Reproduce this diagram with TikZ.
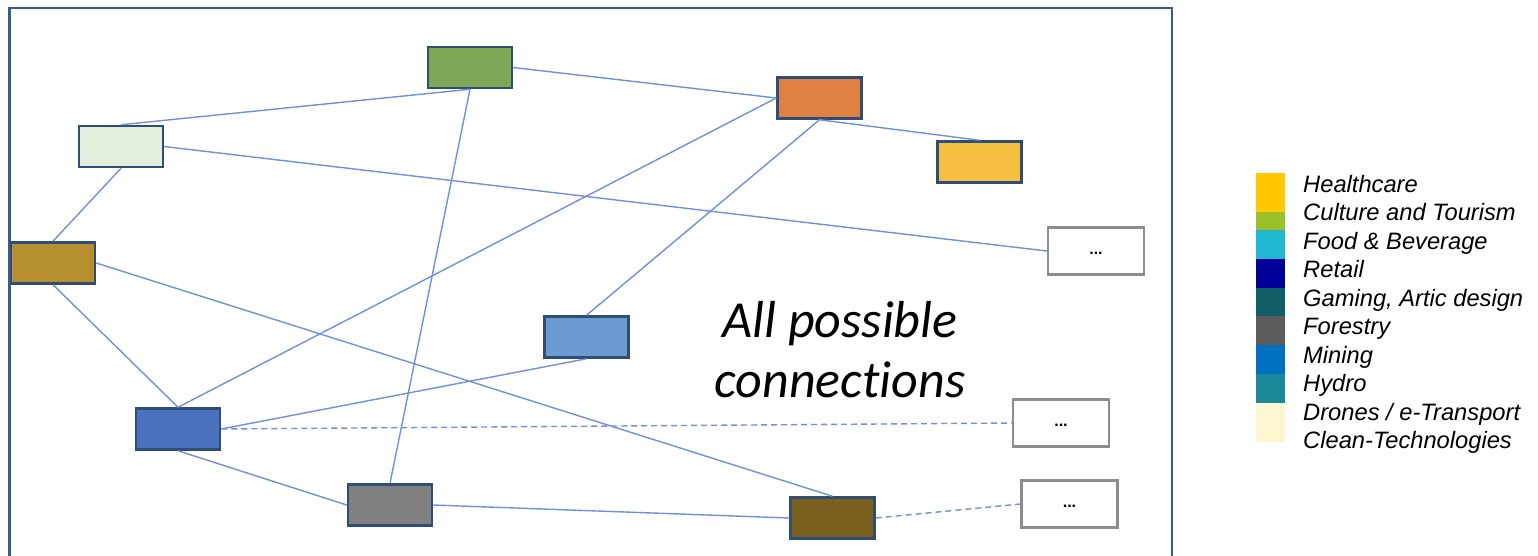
\documentclass[tikz,border=0pt]{standalone}
\usepackage{fontspec}
\setmainfont{Liberation Sans}
\newfontfamily\carl[Ligatures=NoCommon]{Carlito}
\definecolor{cgreen}{HTML}{7EA856}
\definecolor{cpale}{HTML}{E4EEDC}
\definecolor{cgold}{HTML}{B68F30}
\definecolor{corange}{HTML}{E08143}
\definecolor{cyellow}{HTML}{F5BF42}
\definecolor{cmedblue}{HTML}{6A9BD1}
\definecolor{cblue}{HTML}{4A72BE}
\definecolor{cgrey}{HTML}{808080}
\definecolor{colive}{HTML}{7A5F1E}
\definecolor{cborder}{HTML}{2F4E73}
\definecolor{cline}{HTML}{7190D6}
\definecolor{cframe}{HTML}{3A5A90}
\definecolor{cdots}{HTML}{8C8C8C}
\definecolor{lHealth}{HTML}{FFC800}
\definecolor{lCulture}{HTML}{9AC12A}
\definecolor{lFood}{HTML}{20B8D0}
\definecolor{lRetail}{HTML}{000099}
\definecolor{lGaming}{HTML}{115E67}
\definecolor{lForest}{HTML}{5B5B5B}
\definecolor{lMining}{HTML}{0070C0}
\definecolor{lHydro}{HTML}{1A8A9A}
\definecolor{lDrones}{HTML}{FFF5D0}
\tikzset{
  sector/.style={draw=cborder, line width=2.5pt, rectangle, inner sep=0pt, minimum width=84pt, minimum height=41pt},
  dotsbox/.style={draw=cdots, line width=2.5pt, fill=white, rectangle, inner sep=0pt, minimum width=96pt, minimum height=47pt, text height=10pt, text depth=4pt, font=\fontsize{16}{18}\selectfont\bfseries},
  link/.style={draw=cline, line width=1.4pt},
  dlink/.style={link, dash pattern=on 6pt off 4pt},
  legtext/.style={anchor=base west, inner sep=0pt, font=\fontsize{23.7}{28}\selectfont\itshape},
}
\begin{document}
\begin{tikzpicture}[x=1pt,y=-1pt]
\useasboundingbox (0,0) rectangle (1538,555);
\draw[cframe, line width=2.5pt] (9.6,8) rectangle (1172,580);
% nodes
\node[sector, fill=cgreen]  (green)  at (470,67.5) {};
\node[sector, fill=cpale]   (pale)   at (121,146.5) {};
\node[sector, fill=cgold]   (gold)   at (53,263) {};
\node[sector, fill=corange] (orange) at (819.5,98) {};
\node[sector, fill=cyellow] (yellow) at (979.5,162) {};
\node[sector, fill=cmedblue] (medblue) at (586.5,337) {};
\node[sector, fill=cblue]   (blue)   at (178,429) {};
\node[sector, fill=cgrey]   (grey)   at (390,505) {};
\node[sector, fill=colive]  (olive)  at (832.5,518) {};
\node[dotsbox] (dotsA) at (1096,251) {...};
\node[dotsbox] (dotsB) at (1061,423) {...};
\node[dotsbox] (dotsC) at (1069.5,504) {...};
% connections
\draw[link] (pale.north) -- (green.south);
\draw[link] (green.east) -- (orange.west);
\draw[link] (green.south) -- (grey.north);
\draw[link] (pale.east) -- (dotsA.west);
\draw[link] (pale.south) -- (gold.north);
\draw[link] (gold.east) -- (olive.north);
\draw[link] (gold.south) -- (blue.north);
\draw[link] (blue.north) -- (orange.west);
\draw[link] (orange.south) -- (medblue.north);
\draw[link] (orange.south) -- (yellow.north);
\draw[link] (blue.east) -- (medblue.south);
\draw[link] (blue.south) -- (grey.west);
\draw[link] (grey.east) -- (olive.west);
\draw[dlink] (blue.east) -- (dotsB.west);
\draw[dlink] (olive.east) -- (dotsC.west);
% caption
\node[font=\carl\itshape\fontsize{52}{60}\selectfont, align=center, inner sep=0pt] (caption) at (840,350) {All possible\\connections};
% legend
\fill[lHealth]  (1256,173.3) rectangle (1285,211.7);
\fill[lCulture] (1256,211.7) rectangle (1285,230);
\fill[lFood]    (1256,230) rectangle (1285,259);
\fill[lRetail]  (1256,259) rectangle (1285,288);
\fill[lGaming]  (1256,288) rectangle (1285,316);
\fill[lForest]  (1256,316) rectangle (1285,345);
\fill[lMining]  (1256,345) rectangle (1285,374);
\fill[lHydro]   (1256,374) rectangle (1285,403);
\fill[lDrones]  (1256,403) rectangle (1285,441.7);
\node[legtext] (t1) at (1303,192.2) {Healthcare};
\node[legtext] (t2) at (1303,220.7) {Culture and Tourism};
\node[legtext] (t3) at (1303,249.2) {Food \& Beverage};
\node[legtext] (t4) at (1303,277.7) {Retail};
\node[legtext] (t5) at (1303,306.2) {Gaming, Artic design};
\node[legtext] (t6) at (1303,334.7) {Forestry};
\node[legtext] (t7) at (1303,363.2) {Mining};
\node[legtext] (t8) at (1303,391.7) {Hydro};
\node[legtext] (t9) at (1303,420.2) {Drones / e-Transport};
\node[legtext] (t10) at (1303,448.7) {Clean-Technologies};
\end{tikzpicture}
\end{document}
